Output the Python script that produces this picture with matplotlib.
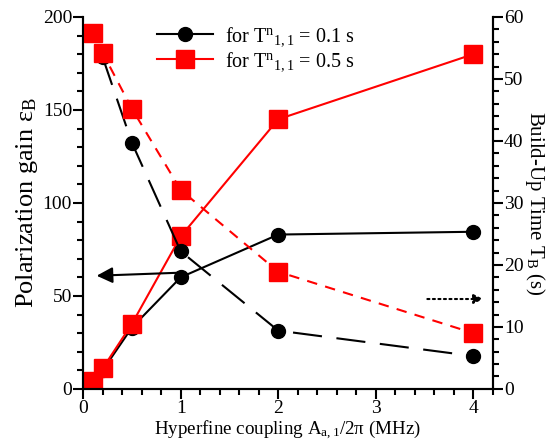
import matplotlib
matplotlib.use("Agg")
import matplotlib.pyplot as plt
from matplotlib.ticker import MultipleLocator

plt.rcParams['font.family'] = ['Liberation Serif', 'DejaVu Serif']
plt.rcParams['mathtext.fontset'] = 'custom'
plt.rcParams['mathtext.rm'] = 'Liberation Serif'
plt.rcParams['mathtext.it'] = 'Liberation Serif:italic'

# polarization gain (left axis)
coupling_gain_01 = [0.1, 0.2, 0.5, 1, 2, 4]
gain_01 = [3, 10, 33, 60, 83, 84.5]
coupling_gain_05 = [0.1, 0.2, 0.5, 1, 2, 4]
gain_05 = [4, 11, 35, 82, 145, 180]

# build-up time (right axis)
coupling_time_01 = [0.2, 0.5, 1, 2, 4]
time_01 = [53.5, 39.7, 22.2, 9.4, 5.3]
coupling_time_05 = [0.1, 0.2, 0.5, 1, 2, 4]
time_05 = [57.4, 54.2, 45.2, 32.1, 18.9, 9.0]

labels = [r"for T$^{\mathrm{n}}$$_{\mathrm{1,1}}$ = 0.1 s",
          r"for T$^{\mathrm{n}}$$_{\mathrm{1,1}}$ = 0.5 s"]

fig = plt.figure(figsize=(5.47, 4.47), dpi=100)
ax = fig.add_axes([0.152, 0.130, 0.749, 0.832])
ax2 = ax.twinx()

l1, = ax.plot(coupling_gain_01, gain_01, color='black', lw=1.5,
              marker='o', markersize=10, label=labels[0])
l2, = ax.plot(coupling_gain_05, gain_05, color='red', lw=1.5,
              marker='s', markersize=12.5, label=labels[1])

ax2.plot(coupling_time_01, time_01, color='black', lw=1.5, dashes=(14, 7),
         marker='o', markersize=10)
ax2.plot(coupling_time_05, time_05, color='red', lw=1.5, dashes=(5, 4),
         marker='s', markersize=12.5)

ax.set_xlim(0, 4.2)
ax.set_ylim(0, 200)
ax2.set_ylim(0, 60)

ax.xaxis.set_major_locator(MultipleLocator(1))
ax.xaxis.set_minor_locator(MultipleLocator(0.2))
ax.yaxis.set_major_locator(MultipleLocator(50))
ax.yaxis.set_minor_locator(MultipleLocator(10))
ax2.yaxis.set_major_locator(MultipleLocator(10))
ax2.yaxis.set_minor_locator(MultipleLocator(2))

for a in (ax, ax2):
    a.spines['top'].set_visible(False)
    for s in a.spines.values():
        s.set_linewidth(1.5)
    a.tick_params(which='major', direction='out', length=7, width=1.5,
                  labelsize=14, pad=1)
    a.tick_params(which='minor', direction='out', length=4, width=1.5)

ax.set_xlabel(r"Hyperfine coupling A$_{\mathrm{a,1}}$/2$\mathrm{\pi}$ (MHz)",
              fontsize=13.7, labelpad=1)
ax.set_ylabel(r"Polarization gain $\mathrm{\varepsilon}_{\mathrm{B}}$",
              fontsize=19, labelpad=2)
ax2.set_ylabel(r"Build-Up Time T$_{\mathrm{B}}$ (s)", fontsize=15,
               rotation=270, labelpad=17)

ax.annotate('', xy=(0.11, 60.8), xytext=(1.0, 62.5),
            arrowprops=dict(arrowstyle='-|>', color='black', lw=1.5,
                            mutation_scale=24))
ax2.annotate('', xy=(4.13, 14.5), xytext=(3.5, 14.5),
             arrowprops=dict(arrowstyle='-|>', color='black', lw=1.5,
                             linestyle=':', mutation_scale=14))

ax2.legend([l1, l2], labels, loc='upper left', bbox_to_anchor=(0.16, 1.0),
           frameon=False, fontsize=14.5, handlelength=2.8, borderaxespad=0,
           labelspacing=0.1, handletextpad=0.6)

fig.savefig('out.png', dpi=100)
